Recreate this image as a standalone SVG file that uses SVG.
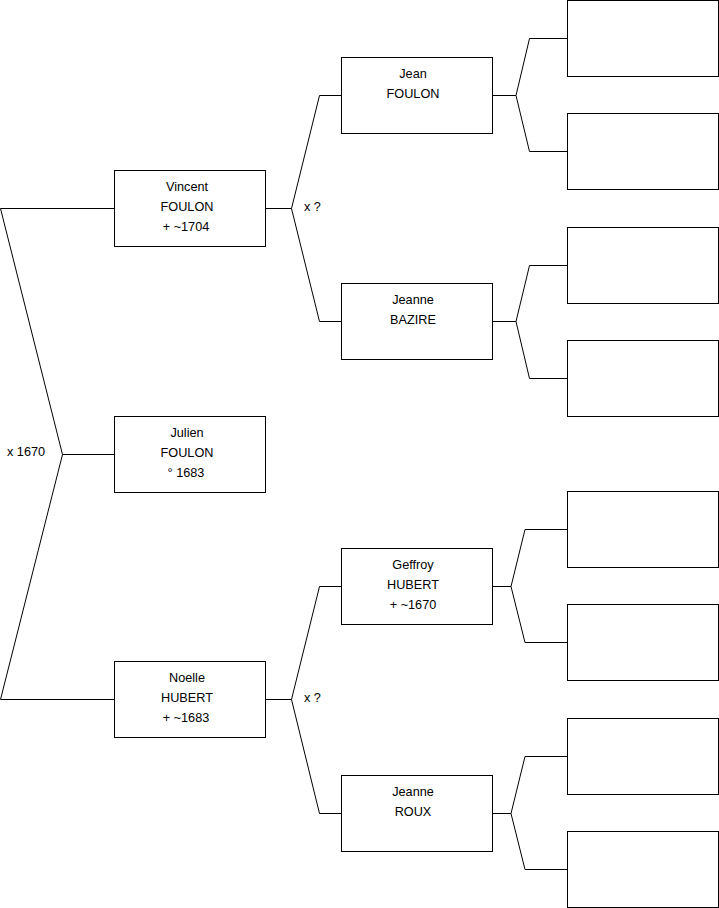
<svg xmlns="http://www.w3.org/2000/svg" width="719" height="908" viewBox="0 0 719 908">
<style>
.box{fill:#fff;stroke:#000;stroke-width:1}
.ln{fill:none;stroke:#000;stroke-width:1}
text{font-family:"Liberation Sans",Arial,sans-serif;font-size:12.7px;fill:#000}
.c{text-anchor:middle}
</style>
<rect x="0" y="0" width="719" height="908" fill="#fff"/>
<g id="connectors">
<path class="ln" d="M0.5,208.5 H114.5 M0.5,208.5 L62.5,454.5 H114.5 M62.5,454.5 L0.5,699.5 H114.5"/>
<path class="ln" d="M265.5,208.5 H291.5 L319.5,95.5 H341.5 M291.5,208.5 L319.5,321.5 H341.5"/>
<path class="ln" d="M265.5,699.5 H291.5 L319.5,586.5 H341.5 M291.5,699.5 L319.5,813.5 H341.5"/>
<path class="ln" d="M492.5,95.5 H516 L529.5,38.5 H567.5 M516,95.5 L529.5,151.5 H567.5"/>
<path class="ln" d="M492.5,321.5 H516 L529.5,265.5 H567.5 M516,321.5 L529.5,378.5 H567.5"/>
<path class="ln" d="M492.5,586.5 H511 L525,529.5 H567.5 M511,586.5 L525,642.5 H567.5"/>
<path class="ln" d="M492.5,813.5 H511 L525,756.5 H567.5 M511,813.5 L525,869.5 H567.5"/>
<text x="304" y="211">x ?</text>
<text x="304" y="702">x ?</text>
<text x="7" y="456">x 1670</text>
</g>
<g id="vincent"><rect class="box" x="114.5" y="170.5" width="151" height="76"/>
<text class="c" x="187" y="191">Vincent</text><text class="c" x="187" y="211">FOULON</text><text class="c" x="186" y="231"> + ~1704</text></g>
<g id="julien"><rect class="box" x="114.5" y="416.5" width="151" height="76"/>
<text class="c" x="187" y="437">Julien</text><text class="c" x="187" y="457">FOULON</text><text class="c" x="186" y="477">° 1683</text></g>
<g id="noelle"><rect class="box" x="114.5" y="661.5" width="151" height="76"/>
<text class="c" x="187" y="682">Noelle</text><text class="c" x="187" y="702">HUBERT</text><text class="c" x="186" y="722"> + ~1683</text></g>
<g id="jean"><rect class="box" x="341.5" y="57.5" width="151" height="76"/>
<text class="c" x="413" y="78">Jean</text><text class="c" x="413" y="98">FOULON</text></g>
<g id="jeanne-bazire"><rect class="box" x="341.5" y="283.5" width="151" height="76"/>
<text class="c" x="413" y="304">Jeanne</text><text class="c" x="413" y="324">BAZIRE</text></g>
<g id="geffroy"><rect class="box" x="341.5" y="548.5" width="151" height="76"/>
<text class="c" x="413" y="569">Geffroy</text><text class="c" x="413" y="589">HUBERT</text><text class="c" x="413" y="609"> + ~1670</text></g>
<g id="jeanne-roux"><rect class="box" x="341.5" y="775.5" width="151" height="76"/>
<text class="c" x="413" y="796">Jeanne</text><text class="c" x="413" y="816">ROUX</text></g>
<g id="p1"><rect class="box" x="567.5" y="0.5" width="151" height="76"/></g>
<g id="p2"><rect class="box" x="567.5" y="113.5" width="151" height="76"/></g>
<g id="p3"><rect class="box" x="567.5" y="227.5" width="151" height="76"/></g>
<g id="p4"><rect class="box" x="567.5" y="340.5" width="151" height="76"/></g>
<g id="p5"><rect class="box" x="567.5" y="491.5" width="151" height="76"/></g>
<g id="p6"><rect class="box" x="567.5" y="604.5" width="151" height="76"/></g>
<g id="p7"><rect class="box" x="567.5" y="718.5" width="151" height="76"/></g>
<g id="p8"><rect class="box" x="567.5" y="831.5" width="151" height="76"/></g>
</svg>
